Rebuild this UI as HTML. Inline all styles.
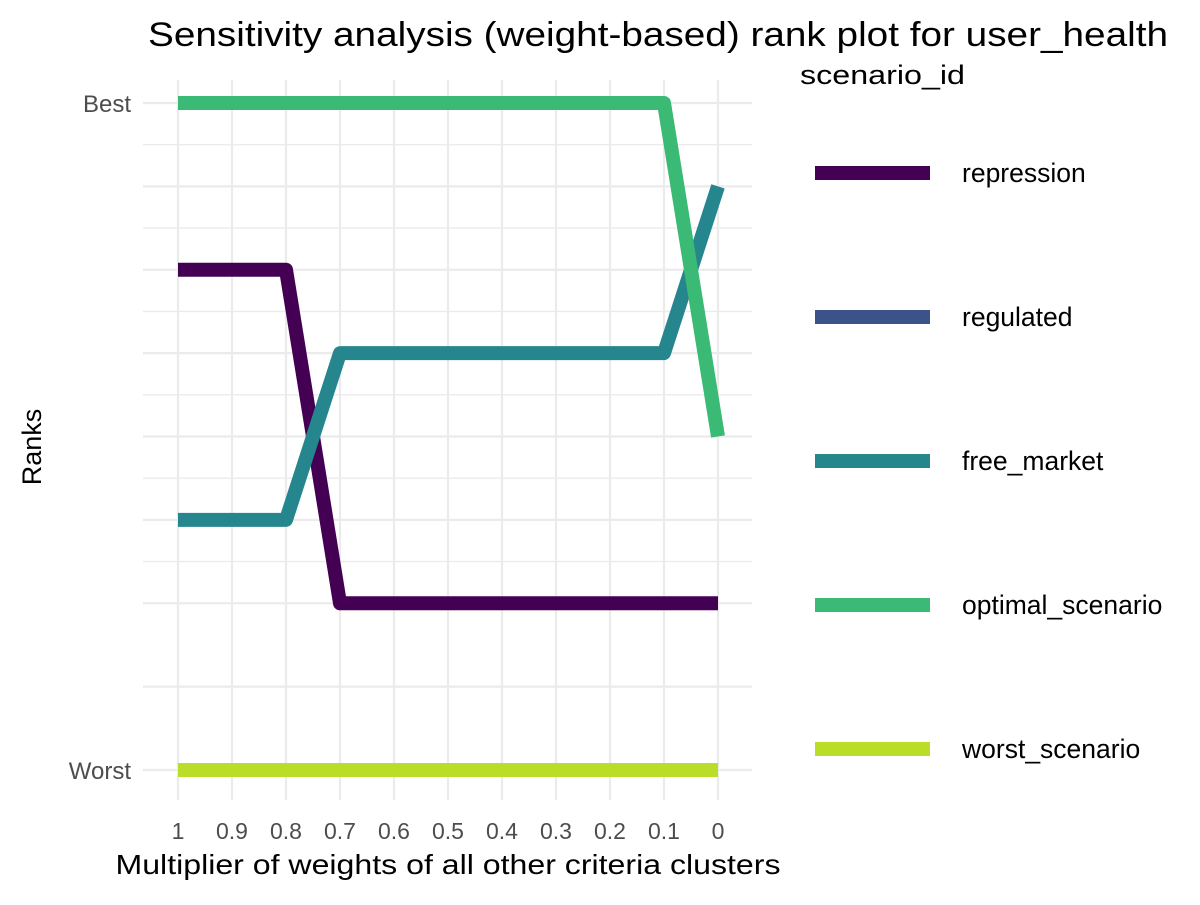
<!DOCTYPE html>
<html><head><meta charset="utf-8"><style>
body{margin:0;background:#fff;}
svg text{font-family:"Liberation Sans",sans-serif;}
</style></head><body>
<svg id="chart" width="1200" height="900">
<rect width="1200" height="900" fill="#fff"/>
<g id="grid"></g>
<g id="lines"></g>
<g id="axes"></g>
<text x="658" y="46" font-size="34" text-anchor="middle" textLength="1020" lengthAdjust="spacingAndGlyphs" fill="#000">Sensitivity analysis (weight-based) rank plot for user_health</text>
<text x="448" y="874" font-size="28" text-anchor="middle" textLength="665" lengthAdjust="spacingAndGlyphs" fill="#000">Multiplier of weights of all other criteria clusters</text>
<text x="41" y="447" font-size="27" text-anchor="middle" fill="#000" transform="rotate(-90 41 447)">Ranks</text>
<text x="800" y="84" font-size="27" textLength="165" lengthAdjust="spacingAndGlyphs" fill="#000">scenario_id</text>
<g id="legend"></g>
</svg>
<script>
const xs = [1,0.9,0.8,0.7,0.6,0.5,0.4,0.3,0.2,0.1,0];
const seriesNames = ["repression","regulated","free_market","optimal_scenario","worst_scenario"];
const colors = ["#440154","#3B528B","#26868E","#3BBA76","#BADE28"];
const repression = [2,2,2,4,4,4,4,4,4,4,4];
const regulated = [5,5,5,5,5,5,5,5,5,5,5];
const freeMarket = [3.5,3.5,3.5,2.5,2.5,2.5,2.5,2.5,2.5,2.5,1.5];
const optimal = [1,1,1,1,1,1,1,1,1,1,3];
const worst = [5,5,5,5,5,5,5,5,5,5,5];
const xTicks = ["1","0.9","0.8","0.7","0.6","0.5","0.4","0.3","0.2","0.1","0"];
const yTickVals = [1,5];
const yTickLabels = ["Best","Worst"];
const gridRanks = [1,1.25,1.5,1.75,2,2.25,2.5,2.75,3,3.25,3.5,3.75,4,4.5,5];
const allSeries = [repression,regulated,freeMarket,optimal,worst];
const NS="http://www.w3.org/2000/svg";
const X = v => 178 + (1 - v) * 540;
const Y = r => 103 + (r - 1) * 166.75;
const grid=document.getElementById('grid'), lines=document.getElementById('lines'), axes=document.getElementById('axes'), legend=document.getElementById('legend');
function mk(t,a,p){const e=document.createElementNS(NS,t);for(const k in a)e.setAttribute(k,a[k]);p.appendChild(e);return e;}
gridRanks.forEach(r=>{
  const g=mk('line',{x1:143,x2:752,y1:Y(r),y2:Y(r),stroke:'#ebebeb','stroke-width':(r*2)%1===0?2.2:1.3},grid);
  
  
});
xs.forEach((v,i)=>{
  const g=mk('line',{x1:X(v),x2:X(v),y1:80,y2:800,stroke:'#ebebeb','stroke-width':2.2},grid);
  
  
  const t=mk('text',{x:X(v),y:839,'font-size':23,'text-anchor':'middle',fill:'#4d4d4d'},axes);
  t.textContent=xTicks[i];
  
  
});
yTickVals.forEach((r,i)=>{
  const t=mk('text',{x:131,y:Y(r)+9,'font-size':24,'text-anchor':'end',fill:'#4d4d4d'},axes);
  t.textContent=yTickLabels[i];
  
  
});
allSeries.forEach((s,k)=>{
  const pts=s.map((r,i)=>X(xs[i])+','+Y(r)).join(' ');
  const p=mk('polyline',{points:pts,fill:'none',stroke:colors[k],'stroke-width':14,'stroke-linejoin':'round','stroke-linecap':'butt'},lines);
  
  
  const ly=173+k*144;
  const l=mk('line',{x1:815,x2:930,y1:ly,y2:ly,stroke:colors[k],'stroke-width':14},legend);
  
  
  const t=mk('text',{x:962,y:ly+9,'font-size':26.5,fill:'#000'},legend);
  t.textContent=seriesNames[k];
  
  
});
</script>
</body></html>
